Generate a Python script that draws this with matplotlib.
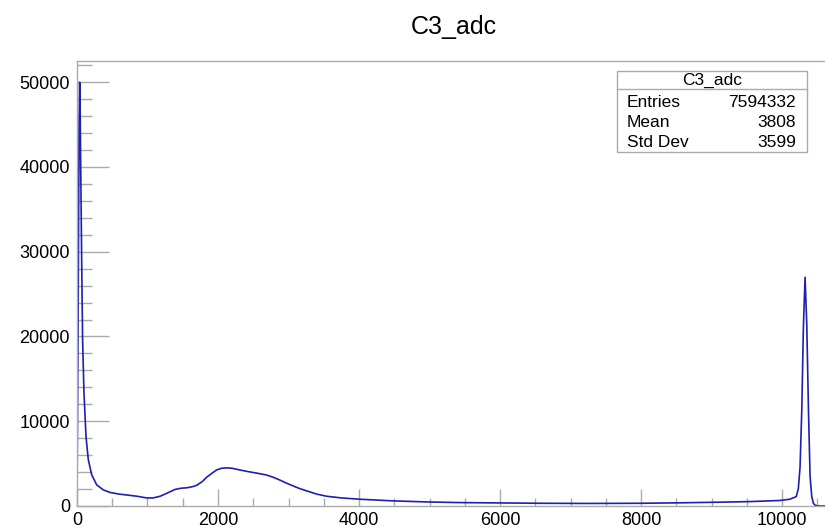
import numpy as np
import matplotlib
matplotlib.use("Agg")
import matplotlib.pyplot as plt
from matplotlib.ticker import MultipleLocator

plt.rcParams['font.family'] = ['Liberation Sans', 'DejaVu Sans']

# histogram outline (ADC channel, counts)
adc = [0, 15, 30, 38, 45, 52, 66, 80, 99, 128, 160, 208, 279, 373, 468, 600,
       705, 850, 990, 1080, 1180, 1300, 1390, 1480, 1560, 1650, 1700, 1780,
       1840, 1920, 1980, 2050, 2120, 2200, 2310, 2400, 2500, 2600, 2690, 2780,
       2880, 2970, 3070, 3160, 3260, 3400, 3540, 3750, 4010, 4250, 4490, 4960,
       5430, 6000, 6600, 7230, 7990, 8600, 9120, 9550, 9970, 10110, 10200,
       10230, 10255, 10280, 10302, 10326, 10350, 10375, 10397, 10421, 10445,
       10470, 10520, 10600]
counts = [300, 20000, 45000, 50000, 47000, 41000, 29500, 19500, 13400, 8200,
          5500, 3700, 2500, 1900, 1600, 1400, 1300, 1150, 950, 950, 1150, 1600,
          1950, 2100, 2150, 2300, 2450, 2900, 3400, 3900, 4250, 4450, 4500,
          4450, 4250, 4100, 3950, 3800, 3650, 3400, 3050, 2700, 2350, 2050,
          1780, 1400, 1150, 950, 800, 700, 600, 480, 400, 360, 320, 300, 320,
          380, 450, 520, 650, 800, 1100, 2000, 4600, 11500, 21000, 27000,
          21500, 11000, 3500, 1100, 300, 80, 0, 0]

hist_name = "C3_adc"
stat_names = ["Entries", "Mean", "Std Dev"]
stat_values = ["7594332", "3808", "3599"]

frame_col = "#ababab"
line_col = "#1f1fb0"

fig = plt.figure(figsize=(8.25, 5.31), dpi=100)
ax = fig.add_axes([0.0933, 0.0471, 0.9145, 0.8379])
ax.plot(adc, counts, color=line_col, lw=1.2)

ax.set_xlim(0, 10700)
ax.set_ylim(0, 52500)
ax.xaxis.set_major_locator(MultipleLocator(2000))
ax.xaxis.set_minor_locator(MultipleLocator(500))
ax.yaxis.set_major_locator(MultipleLocator(10000))
ax.yaxis.set_minor_locator(MultipleLocator(2000))
ax.tick_params(which="both", direction="in", colors=frame_col, labelcolor="black",
               labelsize=13, width=1)
ax.tick_params(axis="x", which="major", length=12, pad=4)
ax.tick_params(axis="x", which="minor", length=6)
ax.tick_params(axis="y", which="major", length=23, pad=5)
ax.tick_params(axis="y", which="minor", length=11)
for s in ax.spines.values():
    s.set_color(frame_col)
    s.set_linewidth(1)

fig.text(0.550, 0.949, hist_name, ha="center", va="center", fontsize=18)

# stats box
x0, x1, yb, yt, ysep = 0.748, 0.978, 0.7132, 0.866, 0.8318
fig.patches.append(plt.Rectangle((x0, yb), x1 - x0, yt - yb, transform=fig.transFigure,
                                 facecolor="white", edgecolor=frame_col, lw=1, zorder=5))
fig.lines.append(plt.Line2D([x0, x1], [ysep, ysep], transform=fig.transFigure,
                            color=frame_col, lw=1, zorder=6))
fig.text((x0 + x1) / 2, 0.848, hist_name, ha="center", va="center", fontsize=12.5, zorder=7)
rows_y = [0.8066, 0.7689, 0.7313]
for name, val, yy in zip(stat_names, stat_values, rows_y):
    fig.text(0.760, yy, name, ha="left", va="center", fontsize=12.5, zorder=7)
    fig.text(0.965, yy, val, ha="right", va="center", fontsize=12.5, zorder=7)

fig.savefig("out.png", dpi=100)
